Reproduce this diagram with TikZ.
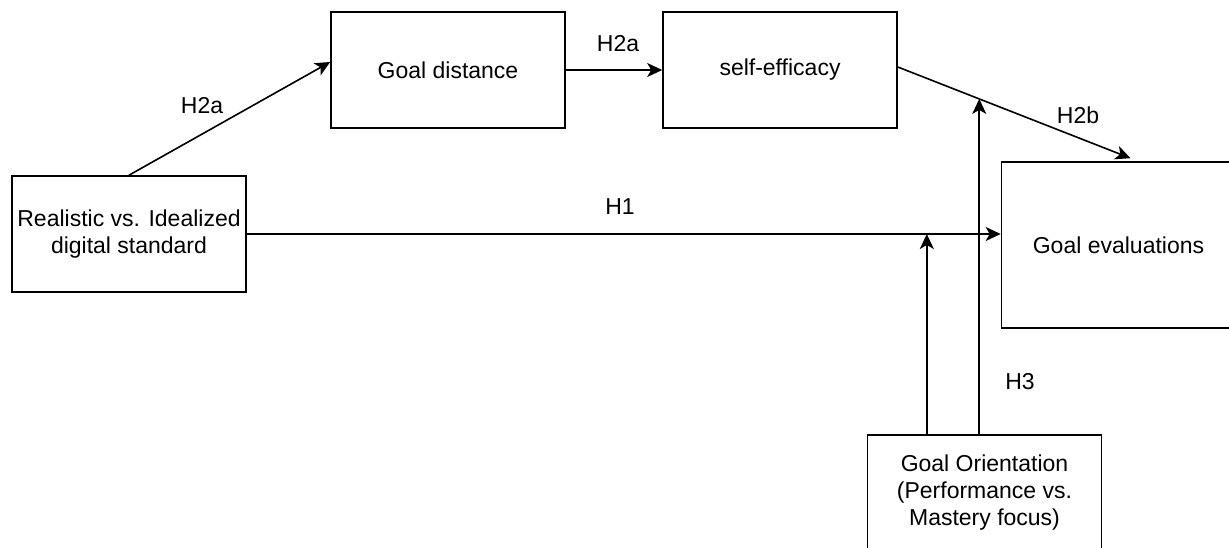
\documentclass[tikz,border=0pt]{standalone}
\usepackage{fontspec}
\setmainfont{Liberation Sans}
\usetikzlibrary{positioning,arrows.meta}

\begin{document}
\begin{tikzpicture}[x=1pt, y=-1pt,
		font=\fontsize{23pt}{27pt}\selectfont,
		box/.style={draw, rectangle, line width=1.6pt, align=center, minimum width=234pt, minimum height=116pt, inner sep=0pt},
		lbl/.style={inner sep=0pt},
		arr/.style={line width=1.6pt, -{Stealth[length=15pt, width=14pt, inset=4pt]}}]
		\useasboundingbox (0,0) rectangle (1229,548);
		\node (real) [box] at (129,234) {Realistic vs. Idealized\\digital standard};
		\node (dist) [box] at (448,70) {Goal distance};
		\node (eff) [box] at (780,70) {self-efficacy};
		\node (eval) [box, minimum height=166pt] at (1118.5,245) {Goal evaluations};
		\node (orient) [box] at (984.5,493) {Goal Orientation\\(Performance vs.\\Mastery focus)};
		
		\node (h2a1) [lbl] at (202,106) {H2a};
		\node (h2a2) [lbl] at (618,44) {H2a};
		\node (h1) [lbl] at (620,207) {H1};
		\node (h2b) [lbl] at (1078,115) {H2b};
		\node (h3) [lbl] at (1020,382) {H3};
		
		\draw [arr] (real.north) -- ([yshift=8pt]dist.west);
		\draw [arr] (dist.east) -- (eff.west);
		\draw [arr] ([yshift=3pt]eff.east) -- coordinate[pos=0.35] (modb) ([xshift=12pt, yshift=3pt]eval.north);
		\draw [arr] (real.east) -- coordinate[pos=0.902] (moda) (real.east -| eval.west);
		\draw [arr] (orient.north -| moda) -- (moda);
		\draw [arr] (orient.north -| modb) -- (modb);
	\end{tikzpicture}
\end{document}
